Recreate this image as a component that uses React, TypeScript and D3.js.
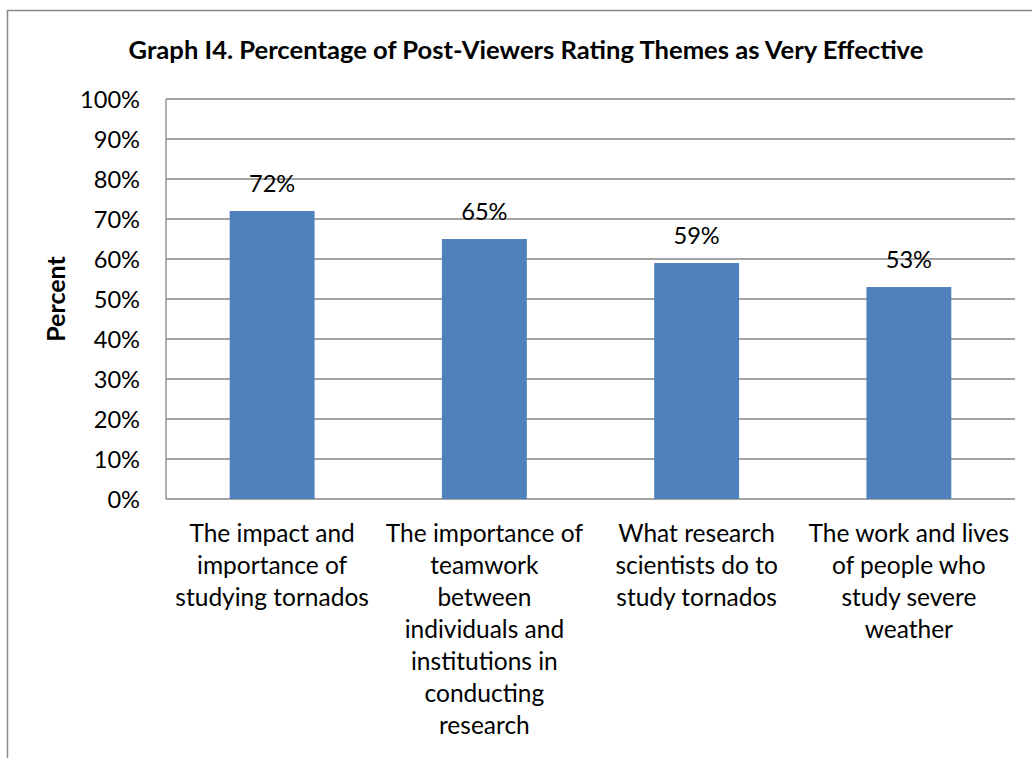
import React from "react";
import * as d3 from "d3";

const title = "Graph I4. Percentage of Post-Viewers Rating Themes as Very Effective";
const yAxisTitle = "Percent";
const categories = [
  ["The impact and", "importance of", "studying tornados"],
  ["The importance of", "teamwork", "between", "individuals and", "institutions in", "conducting", "research"],
  ["What research", "scientists do to", "study tornados"],
  ["The work and lives", "of people who", "study severe", "weather"],
];
const values = [72, 65, 59, 53];
const yTicks = [0, 10, 20, 30, 40, 50, 60, 70, 80, 90, 100];

const W = 1032;
const H = 758;
const plot = { left: 166, right: 1015, top: 99, bottom: 499 };
const FONT = "Lato, 'Open Sans', sans-serif";

export default function App() {
  const keys = categories.map((_, i) => String(i));
  const x = d3.scaleBand<string>().domain(keys).range([plot.left, plot.right]).paddingInner(0.6).paddingOuter(0.3);
  const y = d3.scaleLinear().domain([0, 100]).range([plot.bottom, plot.top]);
  const grid = "#868686";
  return (
    <svg width={W} height={H} style={{ position: "absolute", left: 0, top: 0, background: "#fff" }}>
      <rect x={7.5} y={10.5} width={W + 20} height={H + 20} fill="#fff" stroke="#898989" strokeWidth={1.5} />
      <text x={526} y={59} textAnchor="middle" fontFamily={FONT} fontWeight="bold" fontSize={25.6} fill="#000">
        {title}
      </text>
      {yTicks.map((t) => (
        <g key={t}>
          <line x1={plot.left} x2={plot.right} y1={y(t)} y2={y(t)} stroke={grid} strokeWidth={1.3} />
          <text x={140} y={y(t) + 8.5} textAnchor="end" fontFamily={FONT} fontSize={23.6} fill="#000">
            {t + "%"}
          </text>
        </g>
      ))}
      <line x1={plot.left} x2={plot.left} y1={plot.top} y2={plot.bottom} stroke={grid} strokeWidth={1.3} />
      <text
        transform={`translate(65,${(plot.top + plot.bottom) / 2}) rotate(-90)`}
        textAnchor="middle"
        fontFamily={FONT}
        fontWeight="bold"
        fontSize={25}
        fill="#000"
      >
        {yAxisTitle}
      </text>
      {values.map((v, i) => (
        <g key={i}>
          <rect x={x(keys[i])!} y={y(v)} width={x.bandwidth()} height={y(0) - y(v)} fill="#4f81bd" />
          <text
            x={x(keys[i])! + x.bandwidth() / 2}
            y={y(v) - 19}
            textAnchor="middle"
            fontFamily={FONT}
            fontSize={23.6}
            fill="#000"
          >
            {v + "%"}
          </text>
        </g>
      ))}
      {categories.map((lines, i) => (
        <text
          key={i}
          x={x(keys[i])! + x.bandwidth() / 2}
          textAnchor="middle"
          fontFamily={FONT}
          fontSize={24.5}
          fill="#000"
        >
          {lines.map((l, j) => (
            <tspan key={j} x={x(keys[i])! + x.bandwidth() / 2} y={541.5 + j * 32}>
              {l}
            </tspan>
          ))}
        </text>
      ))}
    </svg>
  );
}
